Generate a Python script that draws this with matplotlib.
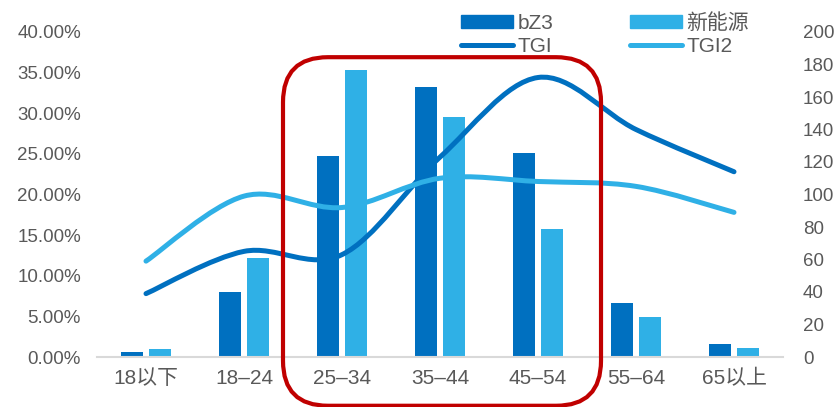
import numpy as np
import matplotlib
matplotlib.use("Agg")
import matplotlib.pyplot as plt
from matplotlib.path import Path
from matplotlib.patches import PathPatch, FancyBboxPatch, Patch
from matplotlib.lines import Line2D
from matplotlib.ticker import FuncFormatter, MultipleLocator
from matplotlib.transforms import IdentityTransform

plt.rcParams['font.family'] = ['Liberation Sans', 'Noto Sans CJK SC']

# age groups and shares (%)
age_groups = ["18以下", "18–24", "25–34", "35–44", "45–54", "55–64", "65以上"]
share_bz3 = [0.65, 8.0, 24.7, 33.2, 25.1, 6.6, 1.55]
share_nev = [1.0, 12.2, 35.3, 29.5, 15.8, 4.9, 1.15]
# TGI index (right axis)
tgi_bz3 = [39, 65, 63, 123, 172, 140, 114]
tgi_nev = [59, 99, 92, 110, 108, 105, 89]

DARK = "#0070C0"
LIGHT = "#2FB0E6"
GREY = "#595959"
RED = "#C00000"


def smooth_path(xs, ys):
  # excel-style smoothed line: catmull-rom segments as cubic beziers
  pts = np.column_stack([xs, ys]).astype(float)
  ext = np.vstack([pts[0], pts, pts[-1]])
  verts = [pts[0]]
  codes = [Path.MOVETO]
  for i in range(len(pts) - 1):
    p0, p1, p2, p3 = ext[i], ext[i + 1], ext[i + 2], ext[i + 3]
    verts += [p1 + (p2 - p0) / 6.0, p2 - (p3 - p1) / 6.0, p2]
    codes += [Path.CURVE4] * 3
  return Path(verts, codes)


fig = plt.figure(figsize=(8.38, 4.07), dpi=100)
ax = fig.add_axes([97 / 838, 50 / 407, 686 / 838, 325 / 407])
ax2 = ax.twinx()

x = np.arange(len(age_groups))
w = 0.225
off = 0.143
ax.bar(x - off, share_bz3, w, color=DARK, zorder=2)
ax.bar(x + off, share_nev, w, color=LIGHT, zorder=2)

ax.set_xlim(-0.5, 6.5)
ax.set_ylim(0, 40)
ax.yaxis.set_major_locator(MultipleLocator(5))
ax.yaxis.set_major_formatter(FuncFormatter(lambda v, p: f"{v:.2f}%"))
ax.set_xticks(x)
ax.set_xticklabels(age_groups, fontsize=15)

ax2.set_ylim(0, 200)
ax2.yaxis.set_major_locator(MultipleLocator(20))

for spine in ["top", "right", "left"]:
  ax.spines[spine].set_visible(False)
for spine in ax2.spines.values():
  spine.set_visible(False)
ax.spines["bottom"].set_color("#D9D9D9")
ax.spines["bottom"].set_linewidth(1.5)

ax.tick_params(axis="y", length=0, pad=11.5, labelsize=13.5, labelcolor=GREY)
ax.tick_params(axis="x", length=0, pad=9, labelcolor=GREY)
ax2.tick_params(axis="y", length=0, pad=14.4, labelsize=13.5, labelcolor=GREY)

for vals, col in [(tgi_bz3, DARK), (tgi_nev, LIGHT)]:
  ax2.add_patch(PathPatch(smooth_path(x, vals), fill=False, edgecolor=col,
                          linewidth=3.6, capstyle="round", zorder=3))

# highlight box round the 25-54 groups
x0, y0 = ax.transData.transform((1.398, 36.9))
x1, y1 = ax.transData.transform((4.643, -6.0))
box = FancyBboxPatch((x0, y1), x1 - x0, y0 - y1,
                     boxstyle="round,pad=0,rounding_size=45",
                     transform=IdentityTransform(), fill=False,
                     edgecolor=RED, linewidth=3.0, zorder=10)
fig.patches.append(box)

handles = [
  Patch(color=DARK, label="bZ3"),
  Line2D([], [], color=DARK, linewidth=3.6, solid_capstyle="round", label="TGI"),
  Patch(color=LIGHT, label="新能源"),
  Line2D([], [], color=LIGHT, linewidth=3.6, solid_capstyle="round", label="TGI2"),
]
fig.legend(handles=handles, ncol=2, loc="upper left",
           bbox_to_anchor=(461 / 838, 1 - 13 / 407), frameon=False,
           fontsize=15, labelcolor=GREY, handlelength=2.5, handleheight=0.55,
           handletextpad=0.2, columnspacing=3.7, labelspacing=0.2,
           borderpad=0, borderaxespad=0)

fig.savefig("out.png", dpi=100)
